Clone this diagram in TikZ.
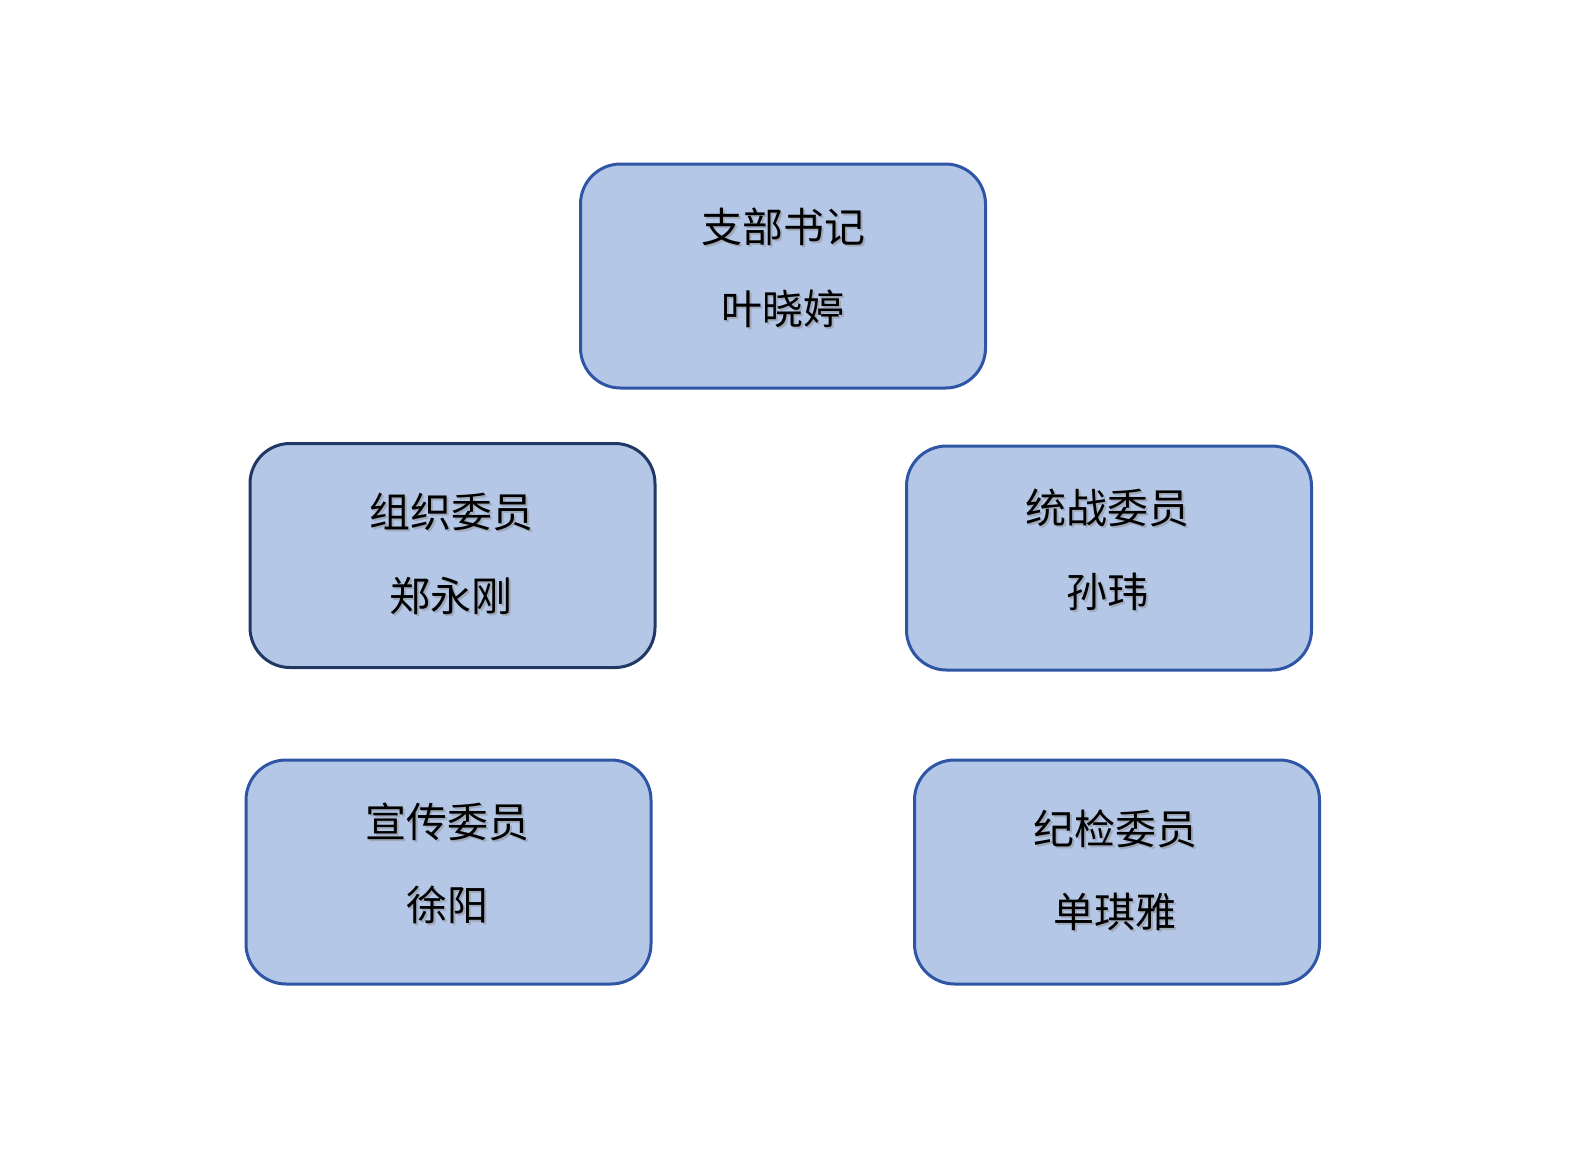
\documentclass[tikz,border=0pt]{standalone}
\usepackage{fontspec}
\newfontfamily\cjk{Noto Sans CJK SC}
\definecolor{boxfill}{HTML}{B4C7E7}
\definecolor{boxline}{HTML}{2F55A5}
\definecolor{boxdark}{HTML}{203864}
\begin{document}
\begin{tikzpicture}[x=0.5pt,y=-0.5pt,
  member/.style={draw=boxline, fill=boxfill, line width=1.5pt, rounded corners=20pt,
    minimum width=202.5pt, minimum height=112pt, inner sep=0pt},
  txt/.style={font=\cjk\fontsize{20.5}{24}\selectfont, text=black, inner sep=0pt},
  shd/.style={font=\cjk\fontsize{20.5}{24}\selectfont, text=black!45, inner sep=0pt, opacity=0.5}]
\useasboundingbox (0,0) rectangle (1587,1148);
\fill[white] (0,0) rectangle (1587,1148);

\node[member] (sec) at (783,276) {};
\node[member, draw=boxdark] (org) at (452.5,555.5) {};
\node[member] (uf) at (1109,558) {};
\node[member] (pro) at (448.5,872) {};
\node[member] (dis) at (1117,872) {};

\foreach \n/\x/\ya/\yb/\ta/\tb in {
  sec/783/227/309/支部书记/叶晓婷,
  org/451/512/596/组织委员/郑永刚,
  uf/1107/508/592/统战委员/孙玮,
  pro/447/822/905/宣传委员/徐阳,
  dis/1115/829/912/纪检委员/单琪雅}{
  \node[shd] (\n-sa) at (\x+2,\ya+2) {\ta};
  \node[shd] (\n-sb) at (\x+2,\yb+2) {\tb};
  \node[txt] (\n-a) at (\x,\ya) {\ta};
  \node[txt] (\n-b) at (\x,\yb) {\tb};
}
\end{tikzpicture}
\end{document}
